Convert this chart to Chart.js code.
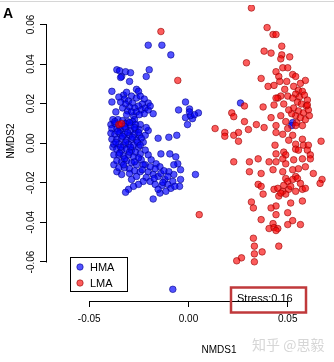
<!DOCTYPE html>
<html>
<head>
<meta charset="utf-8">
<script src="https://cdn.jsdelivr.net/npm/chart.js@4.4.1/dist/chart.umd.min.js"></script>
<style>
  html, body { margin: 0; padding: 0; background: #fff; }
</style>
</head>
<body>
<canvas id="nmds" width="334" height="362"></canvas>
<script>
// tick values
const xTicks = [-0.05, 0, 0.05];
const yTicks = [-0.06, -0.04, -0.02, 0, 0.02, 0.04, 0.06];
const seriesNames = ["HMA", "LMA"];
const stressValue = 0.16;

// NMDS1, NMDS2 per sample
const hma = [
  [-0.0203,0.0495],[-0.0134,0.0495],[-0.0089,0.0446],[-0.0361,0.0371],[-0.0347,0.0366],[-0.0337,0.0337],
  [-0.0317,0.0361],[-0.0292,0.0356],[-0.0297,0.0312],[-0.0342,0.0332],[-0.0198,0.0371],[-0.0213,0.0337],
  [-0.0386,0.0262],[-0.0386,0.0208],[-0.0366,0.0158],[-0.0327,0.0243],[-0.0312,0.0257],[-0.0262,0.0272],
  [-0.0252,0.0262],[-0.0287,0.0238],[-0.0178,0.0149],[-0.0203,0.0203],[-0.0277,0.0139],[-0.0272,0.0119],
  [-0.0322,0.0223],[-0.0302,0.0213],[-0.0282,0.0203],[-0.0262,0.0228],[-0.0243,0.0238],[-0.0223,0.0223],
  [-0.0233,0.0198],[-0.0252,0.0188],[-0.0272,0.0178],[-0.0297,0.0183],[-0.0317,0.0198],[-0.0332,0.0178],
  [-0.0307,0.0163],[-0.0287,0.0158],[-0.0262,0.0158],[-0.0238,0.0168],[-0.0218,0.0178],[-0.0203,0.0168],
  [-0.0193,0.0188],[-0.0223,0.0149],[-0.0248,0.0144],[-0.0312,0.0144],[-0.0342,0.0208],[-0.0351,0.0233],
  [-0.0015,0.0208],[-0.0050,0.0168],[0.0005,0.0173],[0.0050,0.0153],[-0.0015,0.0129],[0.0020,0.0124],
  [-0.0005,0.0094],[0.0010,0.0139],[0.0030,0.0144],[0.0005,0.0158],
  [-0.0153,0.0025],[-0.0099,0.0030],[-0.0059,0.0040],
  [-0.0381,-0.0020],[-0.0376,-0.0059],[-0.0376,-0.0109],[-0.0361,-0.0144],[-0.0337,-0.0158],[-0.0302,-0.0233],
  [-0.0317,-0.0248],[-0.0287,-0.0183],[-0.0262,-0.0168],[-0.0218,-0.0109],[-0.0203,-0.0144],[-0.0178,-0.0158],
  [-0.0153,-0.0168],[-0.0139,-0.0153],[-0.0119,-0.0183],[-0.0104,-0.0208],[-0.0089,-0.0228],[-0.0114,-0.0243],
  [-0.0144,-0.0252],[-0.0178,-0.0282],[-0.0139,-0.0054],[-0.0094,-0.0054],[-0.0064,-0.0069],[-0.0054,-0.0104],
  [-0.0040,-0.0134],[-0.0040,-0.0183],[-0.0045,-0.0218],[0.0035,-0.0158],[-0.0188,-0.0084],[-0.0163,-0.0104],
  [-0.0144,-0.0119],[-0.0168,-0.0129],[-0.0238,-0.0084],[-0.0203,-0.0059],[-0.0218,-0.0035],[-0.0252,-0.0020],
  [-0.0228,0.0005],[-0.0218,0.0040],[-0.0203,0.0064],[-0.0243,0.0094],[-0.0213,0.0079],
  [-0.0381,0.0119],[-0.0356,0.0119],[-0.0332,0.0114],[-0.0307,0.0109],[-0.0282,0.0109],
  [-0.0391,0.0094],[-0.0371,0.0099],[-0.0317,0.0099],[-0.0292,0.0089],[-0.0267,0.0094],
  [-0.0386,0.0074],[-0.0361,0.0074],[-0.0342,0.0069],[-0.0317,0.0074],[-0.0292,0.0064],[-0.0267,0.0069],[-0.0248,0.0069],
  [-0.0391,0.0050],[-0.0371,0.0045],[-0.0347,0.0050],[-0.0322,0.0045],[-0.0297,0.0040],[-0.0272,0.0045],[-0.0248,0.0040],
  [-0.0386,0.0020],[-0.0361,0.0020],[-0.0337,0.0025],[-0.0312,0.0015],[-0.0287,0.0020],[-0.0262,0.0015],[-0.0238,0.0025],
  [-0.0376,-0.0005],[-0.0351,-0.0005],[-0.0327,-0.0010],[-0.0302,-0.0005],[-0.0277,-0.0010],
  [-0.0361,-0.0030],[-0.0337,-0.0035],[-0.0312,-0.0030],[-0.0287,-0.0035],[-0.0267,-0.0045],[-0.0243,-0.0054],
  [-0.0351,-0.0059],[-0.0327,-0.0064],[-0.0302,-0.0059],[-0.0277,-0.0069],[-0.0252,-0.0074],
  [-0.0361,-0.0089],[-0.0337,-0.0094],[-0.0312,-0.0089],[-0.0287,-0.0099],[-0.0262,-0.0109],[-0.0228,-0.0109],
  [-0.0351,-0.0124],[-0.0322,-0.0124],[-0.0297,-0.0129],[-0.0272,-0.0139],[-0.0243,-0.0144],[-0.0213,-0.0173],
  [-0.0193,-0.0193],[-0.0168,-0.0208],[-0.0134,-0.0213],[-0.0153,-0.0233],[-0.0074,-0.0158],[-0.0099,-0.0144],
  [-0.0124,-0.0139],[-0.0074,-0.0109],[-0.0193,-0.0119],
  [-0.0371,0.0109],[-0.0347,0.0084],[-0.0322,0.0084],[-0.0297,0.0104],[-0.0272,0.0079],[-0.0252,0.0054],
  [-0.0356,0.0059],[-0.0332,0.0035],[-0.0307,0.0054],[-0.0282,0.0030],[-0.0257,0.0005],[-0.0366,0.0005],
  [-0.0342,-0.0020],[-0.0317,0.0005],[-0.0292,-0.0020],[-0.0243,-0.0010],[-0.0347,-0.0050],[-0.0322,-0.0079],
  [-0.0297,-0.0045],[-0.0272,-0.0094],[-0.0327,-0.0109],[-0.0297,-0.0153],[-0.0233,-0.0134],[-0.0228,-0.0193],
  [-0.0252,-0.0208],[-0.0277,-0.0218],[-0.0173,-0.0178],[-0.0129,-0.0198],[-0.0079,-0.0193],[-0.0104,-0.0168],
  [-0.0069,-0.0218],
  [0.0262,0.0203],[0.0525,0.0104],[0.0520,0.0089],
  [-0.0079,-0.0738]
];

const lma = [
  [0.0317,0.0683],[0.0396,0.0584],[0.0426,0.0549],[0.0441,0.0549],[0.0470,0.0490],[0.0381,0.0465],
  [0.0416,0.0455],[0.0292,0.0406],[0.0470,0.0446],[0.0465,0.0426],[0.0510,0.0436],
  [0.0441,0.0361],[0.0475,0.0381],[0.0500,0.0381],[0.0525,0.0347],[0.0540,0.0337],[0.0455,0.0337],
  [0.0366,0.0327],[0.0460,0.0312],[0.0495,0.0312],[0.0589,0.0317],[0.0564,0.0302],[0.0401,0.0287],
  [0.0431,0.0292],[0.0485,0.0272],[0.0530,0.0287],[0.0554,0.0267],[0.0574,0.0262],[0.0465,0.0238],[0.0500,0.0238],
  [0.0540,0.0248],[0.0559,0.0233],[0.0584,0.0243],[0.0599,0.0218],[0.0549,0.0208],[0.0569,0.0198],
  [0.0594,0.0188],[0.0530,0.0178],[0.0554,0.0163],[0.0579,0.0153],[0.0604,0.0168],[0.0540,0.0139],
  [0.0564,0.0129],[0.0589,0.0119],[0.0520,0.0149],[0.0545,0.0104],[0.0574,0.0089],[0.0540,0.0089],
  [0.0525,0.0228],[0.0609,0.0139],
  [0.0450,0.0228],[0.0431,0.0193],[0.0376,0.0183],[0.0282,0.0188],[0.0218,0.0153],[0.0228,0.0134],
  [0.0416,0.0129],[0.0505,0.0168],[0.0599,0.0193],[0.0282,0.0109],[0.0342,0.0094],[0.0381,0.0079],
  [0.0134,0.0074],[0.0183,0.0054],[0.0183,0.0035],[0.0228,0.0040],[0.0252,0.0054],[0.0252,0.0010],
  [0.0302,0.0069],[0.0441,0.0089],[0.0441,0.0054],[0.0475,0.0045],[0.0500,0.0074],[0.0525,0.0040],
  [0.0505,0.0015],[0.0540,-0.0005],[0.0574,0.0020],[0.0579,-0.0010],[0.0604,-0.0010],[0.0668,0.0010],
  [0.0436,-0.0010],[0.0540,-0.0030],[0.0480,-0.0045],[0.0441,-0.0054],[0.0490,-0.0059],[0.0554,-0.0035],
  [0.0599,-0.0035],[0.0614,-0.0059],[0.0406,-0.0094],[0.0441,-0.0094],[0.0475,-0.0079],[0.0490,-0.0104],
  [0.0530,-0.0084],[0.0574,-0.0079],[0.0614,-0.0079],[0.0228,-0.0094],[0.0307,-0.0094],[0.0351,-0.0079],
  [0.0307,-0.0144],[0.0366,-0.0153],[0.0426,-0.0134],[0.0475,-0.0144],[0.0525,-0.0134],[0.0554,-0.0129],
  [0.0589,-0.0119],[0.0629,-0.0153],[0.0540,-0.0168],[0.0490,-0.0178],[0.0673,-0.0183],
  [0.0351,-0.0208],[0.0366,-0.0218],[0.0376,-0.0257],[0.0431,-0.0233],[0.0450,-0.0228],[0.0475,-0.0243],
  [0.0455,-0.0267],[0.0490,-0.0257],[0.0505,-0.0233],[0.0540,-0.0243],[0.0574,-0.0233],[0.0589,-0.0228],
  [0.0500,-0.0193],[0.0525,-0.0183],[0.0549,-0.0178],[0.0564,-0.0203],[0.0663,-0.0203],[0.0574,-0.0292],
  [0.0515,-0.0302],[0.0441,-0.0317],[0.0416,-0.0327],[0.0317,-0.0297],[0.0327,-0.0327],[0.0500,-0.0351],
  [0.0441,-0.0361],[0.0366,-0.0386],[0.0525,-0.0391],[0.0500,-0.0411],[0.0564,-0.0411],[0.0406,-0.0431],
  [0.0426,-0.0406],[0.0431,-0.0426],[0.0450,-0.0431],[0.0441,-0.0441],[0.0327,-0.0480],[0.0332,-0.0520],
  [0.0455,-0.0520],[0.0332,-0.0559],[0.0371,-0.0549],[0.0267,-0.0579],[0.0243,-0.0594],[0.0332,-0.0599],
  [0.0054,-0.0361],[-0.0139,0.0564],[-0.0054,0.0317],[-0.0351,0.0094],[-0.0337,0.0099],
  [0.0480,-0.0213],[0.0515,-0.0218],[0.0465,-0.0252],[0.0465,0.0139],[0.0490,0.0109],[0.0480,0.0198],[0.0441,0.0228]
];

const FONT = "'Liberation Sans', Arial, sans-serif";
const blueFill = "rgba(0,0,255,0.68)", blueLine = "rgba(0,0,140,0.6)";
const redFill = "rgba(250,0,0,0.64)", redLine = "rgba(150,0,0,0.6)";

// R-style axes, labels, legend and the stress box
const rDecor = {
  id: "rDecor",
  afterDraw(chart) {
    const { ctx, chartArea, scales: { x, y } } = chart;
    ctx.save();
    ctx.strokeStyle = "#000";
    ctx.lineWidth = 1;

    // axis lines only span first..last tick, like base R
    const ay = Math.round(chartArea.bottom) + 0.5;
    ctx.beginPath();
    ctx.moveTo(Math.round(x.getPixelForValue(xTicks[0])) + 0.5, ay);
    ctx.lineTo(Math.round(x.getPixelForValue(xTicks[xTicks.length - 1])) + 0.5, ay);
    ctx.stroke();
    const ax = Math.round(chartArea.left) - 0.5;
    ctx.beginPath();
    ctx.moveTo(ax, Math.round(y.getPixelForValue(yTicks[0])) + 0.5);
    ctx.lineTo(ax, Math.round(y.getPixelForValue(yTicks[yTicks.length - 1])) + 0.5);
    ctx.stroke();

    // rotated y tick labels
    ctx.fillStyle = "#000";
    ctx.font = "10px " + FONT;
    ctx.textAlign = "center";
    ctx.textBaseline = "middle";
    yTicks.forEach(v => {
      ctx.save();
      ctx.translate(31, y.getPixelForValue(v));
      ctx.rotate(-Math.PI / 2);
      ctx.fillText(v.toFixed(2), 0, 0);
      ctx.restore();
    });

    // axis titles
    ctx.fillText("NMDS1", 219, 350);
    ctx.save();
    ctx.translate(11, 141);
    ctx.rotate(-Math.PI / 2);
    ctx.fillText("NMDS2", 0, 0);
    ctx.restore();

    // panel letter
    ctx.font = "bold 14px " + FONT;
    ctx.textAlign = "left";
    ctx.textBaseline = "alphabetic";
    ctx.fillText("A", 3, 18);

    // legend box
    ctx.strokeRect(70.5, 257.5, 57, 34);
    const fills = [blueFill, redFill], lines = [blueLine, redLine];
    ctx.font = "11px " + FONT;
    ctx.textBaseline = "middle";
    seriesNames.forEach((name, i) => {
      const cy = 267 + i * 16;
      ctx.beginPath();
      ctx.arc(80, cy, 3.2, 0, Math.PI * 2);
      ctx.fillStyle = fills[i];
      ctx.fill();
      ctx.strokeStyle = lines[i];
      ctx.stroke();
      ctx.fillStyle = "#000";
      ctx.fillText(name, 90, cy + 0.5);
    });

    // stress annotation
    ctx.fillStyle = "#000";
    ctx.fillText("Stress:" + stressValue.toFixed(2), 237, 299);
    ctx.strokeStyle = "#c0393b";
    ctx.lineWidth = 2.5;
    ctx.strokeRect(231, 287.5, 75, 25);

    // watermark + top rule
    ctx.font = "14px 'Noto Sans CJK SC', sans-serif";
    ctx.fillStyle = "rgba(200,200,200,0.75)";
    ctx.fillText("知乎 @思毅", 252, 345);
    ctx.strokeStyle = "#d6d6d6";
    ctx.lineWidth = 1;
    ctx.beginPath();
    ctx.moveTo(0, 1.5);
    ctx.lineTo(334, 1.5);
    ctx.stroke();
    ctx.restore();
  }
};

const toPts = arr => arr.map(p => ({ x: p[0], y: p[1] }));

new Chart(document.getElementById("nmds"), {
  type: "scatter",
  data: {
    datasets: [
      { label: seriesNames[1], data: toPts(lma), backgroundColor: redFill, borderColor: redLine,
        borderWidth: 1, pointRadius: 3.3 },
      { label: seriesNames[0], data: toPts(hma), backgroundColor: blueFill, borderColor: blueLine,
        borderWidth: 1, pointRadius: 3.3 }
    ]
  },
  options: {
    responsive: false,
    animation: false,
    layout: { padding: { left: 40, top: 5, right: 0, bottom: 31 } },
    plugins: { legend: { display: false }, tooltip: { enabled: false } },
    scales: {
      x: {
        type: "linear", min: -0.0713, max: 0.0708,
        afterBuildTicks: s => { s.ticks = xTicks.map(v => ({ value: v })); },
        grid: { drawOnChartArea: false, color: "#000", tickLength: 6 },
        border: { display: false },
        ticks: { color: "#000", font: { family: FONT, size: 10 }, padding: 6, maxRotation: 0,
                 callback: v => v.toFixed(2) }
      },
      y: {
        type: "linear", min: -0.0797, max: 0.0698,
        afterBuildTicks: s => { s.ticks = yTicks.map(v => ({ value: v })); },
        grid: { drawOnChartArea: false, color: "#000", tickLength: 7 },
        border: { display: false },
        ticks: { display: false }
      }
    }
  },
  plugins: [rDecor]
});
</script>
</body>
</html>
